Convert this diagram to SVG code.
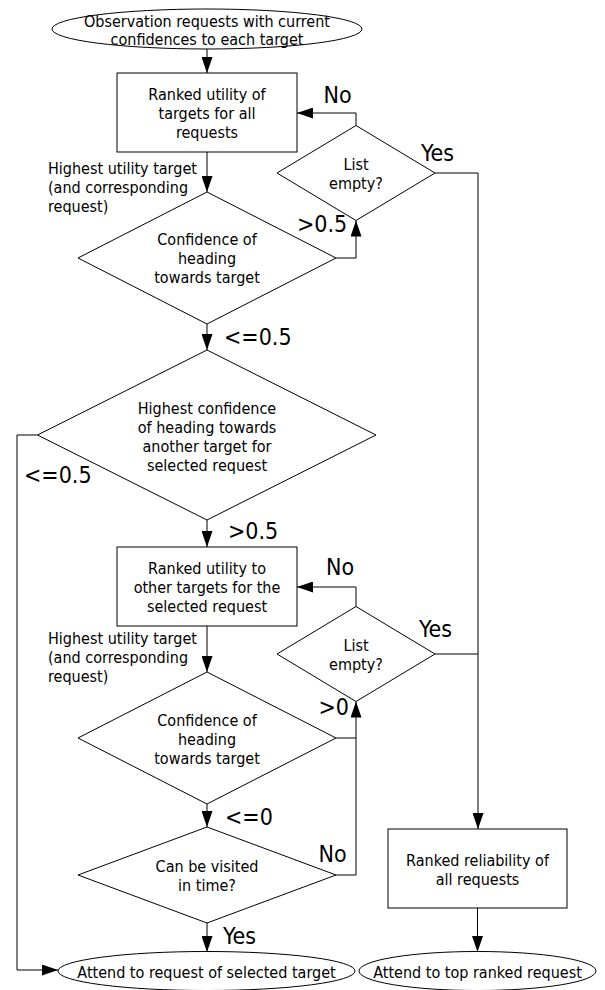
<svg xmlns="http://www.w3.org/2000/svg" width="605" height="990" viewBox="0 0 605 990">
<style>
.n{fill:#fff;stroke:#000;stroke-width:1}
.t{font-family:"DejaVu Sans Condensed","DejaVu Sans",sans-serif;font-size:16px;fill:#000;text-anchor:middle}
.l{font-family:"DejaVu Sans Condensed","DejaVu Sans",sans-serif;font-size:16px;fill:#000}
.b{font-family:"DejaVu Sans Condensed","DejaVu Sans",sans-serif;font-size:23px;fill:#000}
.c{fill:none;stroke:#000;stroke-width:1}
</style>
<defs>
<marker id="ah" markerUnits="userSpaceOnUse" markerWidth="16" markerHeight="11" refX="16" refY="5.5" orient="auto">
<path d="M0,0 L16,5.5 L0,11 z" fill="#000"/>
</marker>
</defs>
<rect width="605" height="990" fill="#fff"/>
<g id="connectors">
<path class="c" d="M207,49 V73" marker-end="url(#ah)"/>
<path class="c" d="M356,125.5 V113 H297" marker-end="url(#ah)"/>
<path class="c" d="M435,173 H478 V829" marker-end="url(#ah)"/>
<path class="c" d="M207,152 V192" marker-end="url(#ah)"/>
<path class="c" d="M336,258 H356 V220.5" marker-end="url(#ah)"/>
<path class="c" d="M207,324 V350" marker-end="url(#ah)"/>
<path class="c" d="M37.5,435 H17 V970 H58" marker-end="url(#ah)"/>
<path class="c" d="M207,520 V547" marker-end="url(#ah)"/>
<path class="c" d="M356,606.5 V587 H297" marker-end="url(#ah)"/>
<path class="c" d="M435,654 H478"/>
<path class="c" d="M207,626 V672" marker-end="url(#ah)"/>
<path class="c" d="M336,738 H356 V701.5" marker-end="url(#ah)"/>
<path class="c" d="M336,875 H356 V738"/>
<path class="c" d="M207,804 V827" marker-end="url(#ah)"/>
<path class="c" d="M207,923 V952" marker-end="url(#ah)"/>
<path class="c" d="M477.5,908 V952" marker-end="url(#ah)"/>
<text class="b" x="323.5" y="103">No</text>
<text class="b" x="421" y="161">Yes</text>
<text class="l" x="48" y="174">Highest utility target</text>
<text class="l" x="48" y="193">(and corresponding</text>
<text class="l" x="48" y="212">request)</text>
<text class="b" x="297" y="232">&gt;0.5</text>
<text class="b" x="224" y="345">&lt;=0.5</text>
<text class="b" x="24" y="483">&lt;=0.5</text>
<text class="b" x="228" y="539">&gt;0.5</text>
<text class="b" x="326" y="575">No</text>
<text class="b" x="419" y="637">Yes</text>
<text class="l" x="48" y="644">Highest utility target</text>
<text class="l" x="48" y="663">(and corresponding</text>
<text class="l" x="48" y="682">request)</text>
<text class="b" x="318.5" y="715">&gt;0</text>
<text class="b" x="225" y="825">&lt;=0</text>
<text class="b" x="318.5" y="862">No</text>
<text class="b" x="223" y="944">Yes</text>
</g>
<g id="start">
<ellipse class="n" cx="207" cy="29" rx="155" ry="20"/>
<text class="t" x="207" y="27">Observation requests with current</text>
<text class="t" x="207" y="45">confidences to each target</text>
</g>
<g id="rank1">
<rect class="n" x="117" y="73" width="180" height="79"/>
<text class="t" x="207" y="100">Ranked utility of</text>
<text class="t" x="207" y="119">targets for all</text>
<text class="t" x="207" y="138">requests</text>
</g>
<g id="empty1">
<polygon class="n" points="356,125.5 435,173 356,220.5 277,173"/>
<text class="t" x="356" y="170">List</text>
<text class="t" x="356" y="189">empty?</text>
</g>
<g id="conf1">
<polygon class="n" points="207,192 336,258 207,324 78,258"/>
<text class="t" x="207" y="245">Confidence of</text>
<text class="t" x="207" y="264">heading</text>
<text class="t" x="207" y="283">towards target</text>
</g>
<g id="highest">
<polygon class="n" points="207,350 376,435 207,520 37.5,435"/>
<text class="t" x="207" y="414">Highest confidence</text>
<text class="t" x="207" y="433">of heading towards</text>
<text class="t" x="207" y="452">another target for</text>
<text class="t" x="207" y="471">selected request</text>
</g>
<g id="rank2">
<rect class="n" x="117" y="547" width="180" height="79"/>
<text class="t" x="207" y="574">Ranked utility to</text>
<text class="t" x="207" y="593">other targets for the</text>
<text class="t" x="207" y="612">selected request</text>
</g>
<g id="empty2">
<polygon class="n" points="356,606.5 435,654 356,701.5 277,654"/>
<text class="t" x="356" y="651">List</text>
<text class="t" x="356" y="670">empty?</text>
</g>
<g id="conf2">
<polygon class="n" points="207,672 336,738 207,804 78,738"/>
<text class="t" x="207" y="726">Confidence of</text>
<text class="t" x="207" y="745">heading</text>
<text class="t" x="207" y="764">towards target</text>
</g>
<g id="visit">
<polygon class="n" points="207,827 336,875 207,923 78,875"/>
<text class="t" x="207" y="872">Can be visited</text>
<text class="t" x="207" y="891">in time?</text>
</g>
<g id="rel">
<rect class="n" x="388" y="829" width="179" height="79"/>
<text class="t" x="477.5" y="866">Ranked reliability of</text>
<text class="t" x="477.5" y="885">all requests</text>
</g>
<g id="attend1">
<ellipse class="n" cx="206.5" cy="971" rx="148.5" ry="19.5"/>
<text class="t" x="206.5" y="978">Attend to request of selected target</text>
</g>
<g id="attend2">
<ellipse class="n" cx="477.5" cy="971" rx="118.5" ry="19.5"/>
<text class="t" x="477.5" y="978">Attend to top ranked request</text>
</g>
</svg>
